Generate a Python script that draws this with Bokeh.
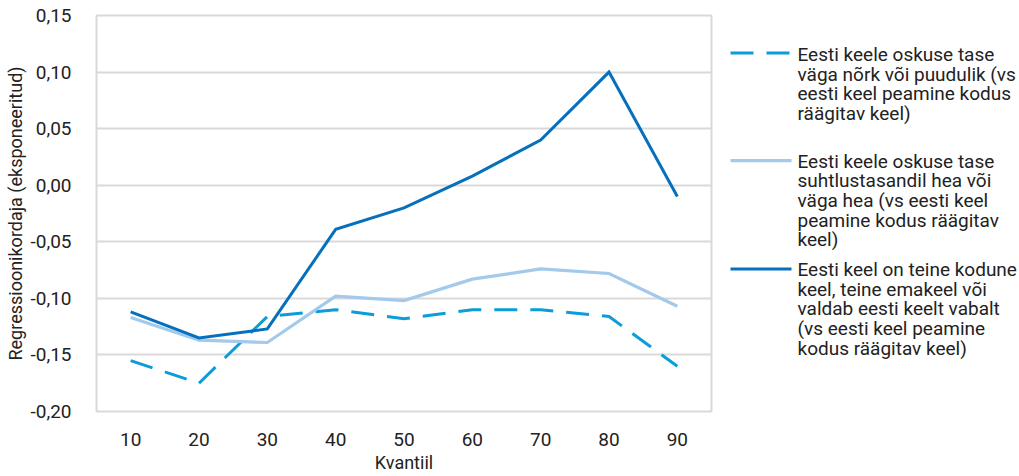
from bokeh.plotting import figure
from bokeh.layouts import row
from bokeh.models import FactorRange, Range1d, FixedTicker, ColumnDataSource
from bokeh.core.properties import value
from bokeh.embed import file_html
from bokeh.resources import INLINE

# ---------------- data ----------------
quantiles = ["10", "20", "30", "40", "50", "60", "70", "80", "90"]
weak_lang = [-0.155, -0.175, -0.116, -0.110, -0.118, -0.110, -0.110, -0.116, -0.160]
good_lang = [-0.117, -0.137, -0.139, -0.098, -0.102, -0.083, -0.074, -0.078, -0.107]
second_lang = [-0.112, -0.135, -0.127, -0.039, -0.020, 0.008, 0.040, 0.100, -0.010]

y_ticks = [-0.20, -0.15, -0.10, -0.05, 0.00, 0.05, 0.10, 0.15]
y_tick_labels = ["-0,20", "-0,15", "-0,10", "-0,05", "0,00", "0,05", "0,10", "0,15"]

series_names = [
    ["Eesti keele oskuse tase", "väga nõrk või puudulik (vs", "eesti keel peamine kodus", "räägitav keel)"],
    ["Eesti keele oskuse tase", "suhtlustasandil hea või", "väga hea (vs eesti keel", "peamine kodus räägitav", "keel)"],
    ["Eesti keel on teine kodune", "keel, teine emakeel või", "valdab eesti keelt vabalt", "(vs eesti keel peamine", "kodus räägitav keel)"],
]
colors = ["#0A9DD9", "#A3C9EB", "#0670BD"]
dashes = ["23 13", "solid", "solid"]
widths = [3, 3.2, 3]

FONT = "Roboto"
GRID = "#D9D9D9"
TXT = "#222222"

# ---------------- main plot ----------------
p = figure(frame_width=615, frame_height=396, output_backend="svg", toolbar_location=None,
           x_range=FactorRange(*quantiles), y_range=Range1d(-0.20, 0.15),
           min_border_left=96, min_border_right=2, min_border_top=15, min_border_bottom=64)

src = ColumnDataSource(dict(q=quantiles, a=weak_lang, b=good_lang, c=second_lang))
for col, c, d, w in zip(["a", "b", "c"], colors, dashes, widths):
    p.line("q", col, source=src, line_color=c, line_dash=d, line_width=w,
           line_cap="butt", line_join="miter")

p.outline_line_color = GRID
p.outline_line_width = 2
p.xgrid.grid_line_color = None
p.ygrid.grid_line_color = GRID
p.ygrid.grid_line_width = 2

p.yaxis.ticker = FixedTicker(ticks=y_ticks)
p.yaxis.major_label_overrides = {t: l for t, l in zip(y_ticks, y_tick_labels)}
for ax in (p.xaxis, p.yaxis):
    ax.axis_line_color = None
    ax.major_tick_line_color = None
    ax.minor_tick_line_color = None
    ax.major_label_text_font = FONT
    ax.major_label_text_font_size = "19px"
    ax.major_label_text_color = TXT
    ax.axis_label_text_font = FONT
    ax.axis_label_text_font_size = "18px"
    ax.axis_label_text_font_style = "normal"
    ax.axis_label_text_color = TXT
p.yaxis.major_label_standoff = 19
p.xaxis.major_label_standoff = 15
p.yaxis.axis_label = "Regressioonikordaja (eksponeeritud)"
p.xaxis.axis_label = "Kvantiil"
p.yaxis.axis_label_standoff = 1
p.xaxis.axis_label_standoff = 3
p.xaxis.group_text_font_size = "0px"

# ---------------- legend panel ----------------
LW = 1019 - (96 + 615 + 2)
H = 15 + 396 + 64
lg = figure(width=LW, height=H, output_backend="svg", toolbar_location=None,
            x_range=Range1d(0, LW), y_range=Range1d(H, 0),
            x_axis_location=None, y_axis_location=None,
            min_border=0, outline_line_color=None)
lg.xgrid.grid_line_color = None
lg.ygrid.grid_line_color = None

sample_y = [45, 174, 304]
text_top = [47, 175, 305]
step = 23.5
for names, sy, ty, c, d, w in zip(series_names, sample_y, text_top, colors, dashes, widths):
    lg.line([17, 78], [sy, sy], line_color=c, line_dash=d, line_width=w, line_cap="butt")
    ys = [ty + i * step for i in range(len(names))]
    lg.text(x=[84] * len(names), y=ys, text=names, text_font=value(FONT),
            text_font_size="19px", text_color=TXT, text_baseline="middle", text_align="left")

layout = row(p, lg)
open("out.html", "w").write(file_html(layout, INLINE))
